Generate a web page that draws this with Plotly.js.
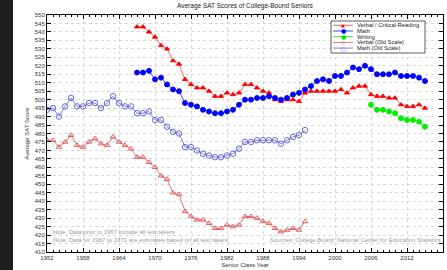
<!DOCTYPE html>
<html><head><meta charset="utf-8">
<script src="https://cdn.plot.ly/plotly-3.0.1.min.js"></script>
<style>html,body{margin:0;padding:0;background:#fff;}#wrap{position:relative;width:447px;height:270px;overflow:hidden;}#chart{position:absolute;left:0;top:0;width:447px;height:270px;}#strip{position:absolute;left:0;top:0;width:13px;height:270px;background:#1e1e1e;}</style>
</head><body><div id="wrap"><div id="chart"></div><div id="strip"></div></div>
<script>
const yearsNew = [1967,1968,1969,1970,1971,1972,1973,1974,1975,1976,1977,1978,1979,1980,1981,1982,1983,1984,1985,1986,1987,1988,1989,1990,1991,1992,1993,1994,1995,1996,1997,1998,1999,2000,2001,2002,2003,2004,2005,2006,2007,2008,2009,2010,2011,2012,2013,2014,2015];
const verbal = [543,543,540,537,532,530,523,521,512,509,507,507,505,502,502,504,503,504,509,509,507,505,504,500,499,500,500,499,504,505,505,505,505,505,506,504,507,508,508,503,502,502,501,501,497,496,496,497,495];
const math = [516,516,517,512,513,509,506,505,498,497,496,494,493,492,492,493,494,497,500,500,501,501,502,501,500,501,503,504,506,508,511,512,511,514,514,516,519,518,520,518,515,515,515,516,514,514,514,513,511];
const yearsWriting = [2006,2007,2008,2009,2010,2011,2012,2013,2014,2015];
const writing = [497,494,494,493,492,489,488,488,487,484];
const yearsOld = [1952,1953,1954,1955,1956,1957,1958,1959,1960,1961,1962,1963,1964,1965,1966,1967,1968,1969,1970,1971,1972,1973,1974,1975,1976,1977,1978,1979,1980,1981,1982,1983,1984,1985,1986,1987,1988,1989,1990,1991,1992,1993,1994,1995];
const verbalOld = [476,476,472,475,479,473,472,475,477,474,473,478,475,473,471,466,466,463,460,455,453,445,444,434,431,429,429,427,424,424,426,425,426,431,431,430,428,427,424,422,423,424,423,428];
const mathOld = [494,495,490,496,501,496,496,498,498,495,498,502,498,496,496,492,492,493,488,488,484,481,480,472,472,470,468,467,466,466,467,468,471,475,475,476,476,476,476,474,476,478,479,482];
const xTicks = [1952,1958,1964,1970,1976,1982,1988,1994,2000,2006,2012,2018];
const seriesNames = ['Verbal / Critical Reading','Math','Writing','Verbal (Old Scale)','Math (Old Scale)'];
const legendGlyphs = ['\u25B2','\u25CF','\u25CF','\u25B3','\u25CB'];

const styles = [
  {line:'#f05050', mk:'#ff0000', sym:'triangle-up', size:4.5},
  {line:'#3030ff', mk:'#0000ff', sym:'circle', size:5},
  {line:'#20e020', mk:'#00ee00', sym:'circle', size:5},
  {line:'#e06868', mk:'#e05050', sym:'triangle-up-open', size:5},
  {line:'#7070dd', mk:'#5a5ad8', sym:'circle-open', size:5.5}
];
const dataSets = [[yearsNew,verbal],[yearsNew,math],[yearsWriting,writing],[yearsOld,verbalOld],[yearsOld,mathOld]];
const traces = dataSets.map((d,i)=>({
  x:d[0], y:d[1], type:'scatter', mode:'lines+markers', name:seriesNames[i],
  line:{color:styles[i].line, width:0.9},
  marker:{color:styles[i].mk, symbol:styles[i].sym, size:styles[i].size, line:{color:styles[i].mk, width:0.9}},
  showlegend:false, hoverinfo:'skip'
}));
// pixel -> paper helpers (plot area x 47..443, y 15..252)
const PX = px => (px-47)/396;
const PY = py => (252-py)/237;
const ff = 'Liberation Sans, Arial, sans-serif';
const legY = [25.3, 31, 36.7, 42.4, 48.1];
const annotations = [];
const shapes = [{type:'rect', xref:'paper', yref:'paper', x0:PX(331), x1:PX(425), y0:PY(53), y1:PY(21), line:{color:'#333', width:0.8}, fillcolor:'#fff', layer:'above'}];
seriesNames.forEach((n,i)=>{
  shapes.push({type:'line', xref:'paper', yref:'paper', x0:PX(333), x1:PX(353), y0:PY(legY[i]), y1:PY(legY[i]), line:{color:styles[i].line, width:0.9}, layer:'above'});
  annotations.push({xref:'paper', yref:'paper', x:PX(343), y:PY(legY[i]), text:legendGlyphs[i], showarrow:false, xanchor:'center', yanchor:'middle', borderpad:0, font:{size:i===0||i===3?5:6, color:styles[i].mk, family:'DejaVu Sans, sans-serif'}});
  annotations.push({xref:'paper', yref:'paper', x:PX(356), y:PY(legY[i]), text:n, showarrow:false, xanchor:'left', yanchor:'middle', borderpad:0, font:{size:5.8, color:'#222', family:ff}});
});
const noteFont = {size:6, color:'#9a9a9a', family:ff};
annotations.push({xref:'paper', yref:'paper', x:PX(52), y:PY(231.5), text:'Note: Data prior to 1967 include all test takers', showarrow:false, xanchor:'left', yanchor:'middle', borderpad:0, font:noteFont});
annotations.push({xref:'paper', yref:'paper', x:PX(52), y:PY(240), text:'Note: Data for 1967 to 1971 are estimates based on all test takers', showarrow:false, xanchor:'left', yanchor:'middle', borderpad:0, font:noteFont});
annotations.push({xref:'paper', yref:'paper', x:PX(442), y:PY(240), text:'Sources: College Board; National Center for Education Statistics', showarrow:false, xanchor:'right', yanchor:'middle', borderpad:0, font:noteFont});

const layout = {
  width:447, height:270, margin:{l:47, r:4, t:15, b:18},
  paper_bgcolor:'#fff', plot_bgcolor:'#fff', font:{family:ff, size:6, color:'#333'}, showlegend:false,
  title:{text:'Average SAT Scores of College-Bound Seniors', font:{size:6.5, color:'#222'}, x:0.548, xanchor:'center', y:0.978, yanchor:'middle'},
  xaxis:{range:[1952,2018], tickvals:xTicks, ticks:'inside', ticklen:4, tickcolor:'#000', showline:true, linecolor:'#000', linewidth:1, mirror:'ticks', showgrid:true, gridcolor:'#c8c8c8', griddash:'dot', gridwidth:0.7, zeroline:false, tickfont:{size:6, color:'#333'},
    minor:{dtick:1, tick0:1952, ticks:'inside', ticklen:2, tickcolor:'#000', showgrid:false},
    title:{text:'Senior Class Year', font:{size:6, color:'#333'}, standoff:2}},
  yaxis:{range:[410,550], dtick:5, tick0:410, ticks:'inside', ticklen:4, tickcolor:'#000', showline:true, linecolor:'#000', linewidth:1, mirror:'ticks', showgrid:true, gridcolor:'#c8c8c8', griddash:'dot', gridwidth:0.7, zeroline:false, tickfont:{size:6, color:'#333'},
    title:{text:'Average SAT Score', font:{size:6, color:'#333'}, standoff:4}},
  shapes:shapes,
  annotations:annotations
};
Plotly.newPlot('chart', traces, layout, {staticPlot:true, displayModeBar:false});
</script></body></html>
